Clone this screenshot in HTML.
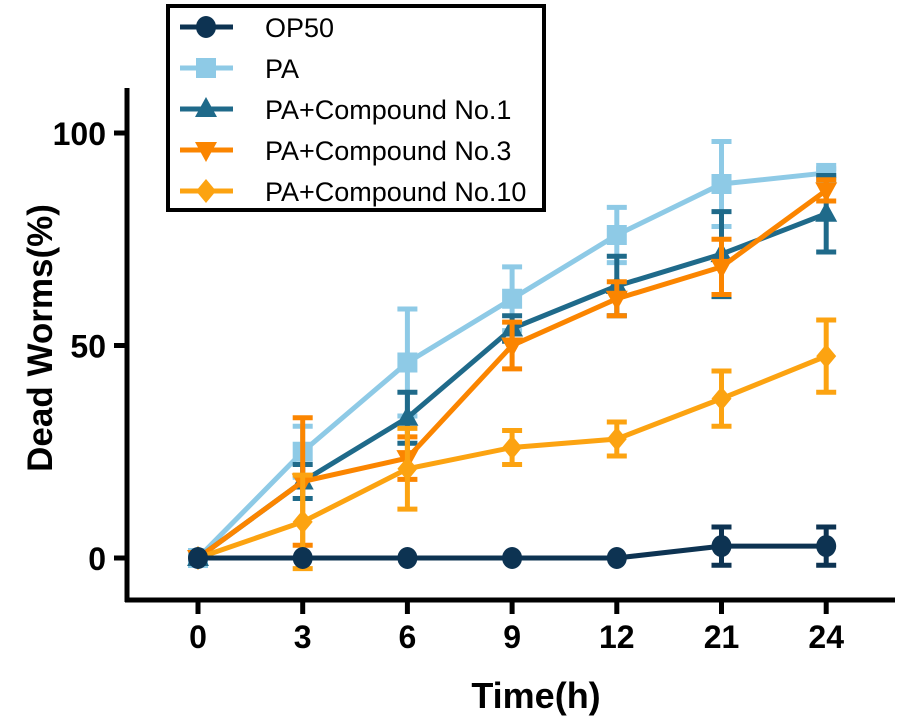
<!DOCTYPE html>
<html><head><meta charset="utf-8"><style>
html,body{margin:0;padding:0;background:#fff;}
svg{display:block;font-family:"Liberation Sans",Arial,sans-serif;}
</style></head><body>
<svg id="chart" width="901" height="718" viewBox="0 0 901 718">
<g id="axes"></g><g id="series"></g>
<g id="legend">
<rect x="168" y="6" width="376" height="204" fill="#fff" stroke="#000" stroke-width="4"/>
</g>
<text x="52" y="338" transform="rotate(-90 52 338)" text-anchor="middle" font-size="35" font-weight="bold">Dead Worms(%)</text>
<text x="536" y="708" text-anchor="middle" font-size="36" font-weight="bold">Time(h)</text>
</svg>
<script>
const categories=["0","3","6","9","12","21","24"];
const yTicks=[0,50,100];
const seriesNames=["OP50","PA","PA+Compound No.1","PA+Compound No.3","PA+Compound No.10"];
const op50=[0,0,0,0,0,2.8,2.8];
const op50Err=[0,0,0,0,0,4.5,4.5];
const pa=[0,25,46,61,76,88,90.6];
const paErr=[0,6,12.6,7.5,6.5,10,1];
const c1=[0,18,33,54,64,71.5,81];
const c1Err=[0,4,6,3,7,10,9];
const c3=[0,18,23.5,50,61,68.5,86.5];
const c3Err=[0,15,5,5.5,4,6.5,2.5];
const c10=[0,8.5,21,26,28,37.5,47.5];
const c10Err=[0,11,9.5,4,4,6.5,8.5];

const NS="http://www.w3.org/2000/svg";
const xPos=i=>198+i*104.7;
const yPos=v=>558-v*4.25;
function mk(tag,attrs,parent){const e=document.createElementNS(NS,tag);for(const k in attrs)e.setAttribute(k,attrs[k]);parent.appendChild(e);return e;}
const axes=document.getElementById('axes');
let e;
e=mk('line',{x1:127,y1:88,x2:127,y2:602,stroke:'#000','stroke-width':5},axes);


e=mk('line',{x1:125,y1:600,x2:895,y2:600,stroke:'#000','stroke-width':5},axes);


yTicks.forEach(v=>{
 mk('line',{x1:114,y1:yPos(v),x2:127,y2:yPos(v),stroke:'#000','stroke-width':5},axes);
 e=mk('text',{x:106,y:yPos(v)+12,'text-anchor':'end','font-size':32,'font-weight':'bold'},axes);
 e.textContent=v;
 
 
});
categories.forEach((c,i)=>{
 mk('line',{x1:xPos(i),y1:600,x2:xPos(i),y2:614,stroke:'#000','stroke-width':5},axes);
 e=mk('text',{x:xPos(i),y:648,'text-anchor':'middle','font-size':32,'font-weight':'bold'},axes);
 e.textContent=c;
 
 
});
const colors=["#0d3352","#8ecae6","#1f6a8a","#fb8500","#fca311"];
const shapes=["circle","square","tri","tridown","diamond"];
function marker(g,s,x,y,col,r){
 if(s==='circle')return mk('ellipse',{cx:x,cy:y,rx:r,ry:r*1.1,fill:col},g);
 if(s==='square')return mk('rect',{x:x-r,y:y-r,width:2*r,height:2*r,fill:col},g);
 if(s==='tri')return mk('polygon',{points:`${x},${y-r*1.2} ${x-r*1.1},${y+r*0.8} ${x+r*1.1},${y+r*0.8}`,fill:col},g);
 if(s==='tridown')return mk('polygon',{points:`${x},${y+r*1.2} ${x-r*1.1},${y-r*0.8} ${x+r*1.1},${y-r*0.8}`,fill:col},g);
 return mk('polygon',{points:`${x},${y-r*1.2} ${x+r},${y} ${x},${y+r*1.2} ${x-r},${y}`,fill:col},g);
}
const data=[[op50,op50Err],[pa,paErr],[c1,c1Err],[c3,c3Err],[c10,c10Err]];
const sg=document.getElementById('series');
const order=[1,2,3,4,0];
order.forEach(si=>{
 const [vals,errs]=data[si];const col=colors[si];
 const g=mk('g',{},sg);
 
 
 vals.forEach((v,i)=>{
  if(errs[i]>0){
   const eb=mk('path',{d:`M${xPos(i)},${yPos(v+errs[i])}V${yPos(v-errs[i])}M${xPos(i)-10},${yPos(v+errs[i])}h20M${xPos(i)-10},${yPos(v-errs[i])}h20`,stroke:col,'stroke-width':5,fill:'none'},g);
   
   
  }
 });
 const l=mk('polyline',{points:vals.map((v,i)=>xPos(i)+','+yPos(v)).join(' '),stroke:col,'stroke-width':5,fill:'none'},g);
 
 
 vals.forEach((v,i)=>{
  const m=marker(g,shapes[si],xPos(i),yPos(v),col,10);
  
  
 });
});
const lg=document.getElementById('legend');
seriesNames.forEach((n,i)=>{
 const y=27+i*41;
 const g=mk('g',{},lg);
 
 
 mk('line',{x1:180,y1:y,x2:233,y2:y,stroke:colors[i],'stroke-width':5},g);
 marker(g,shapes[i],206,y,colors[i],10);
 const t=mk('text',{x:265,y:y+10,'font-size':27},g);
 t.textContent=n;
});
</script>
</body></html>
